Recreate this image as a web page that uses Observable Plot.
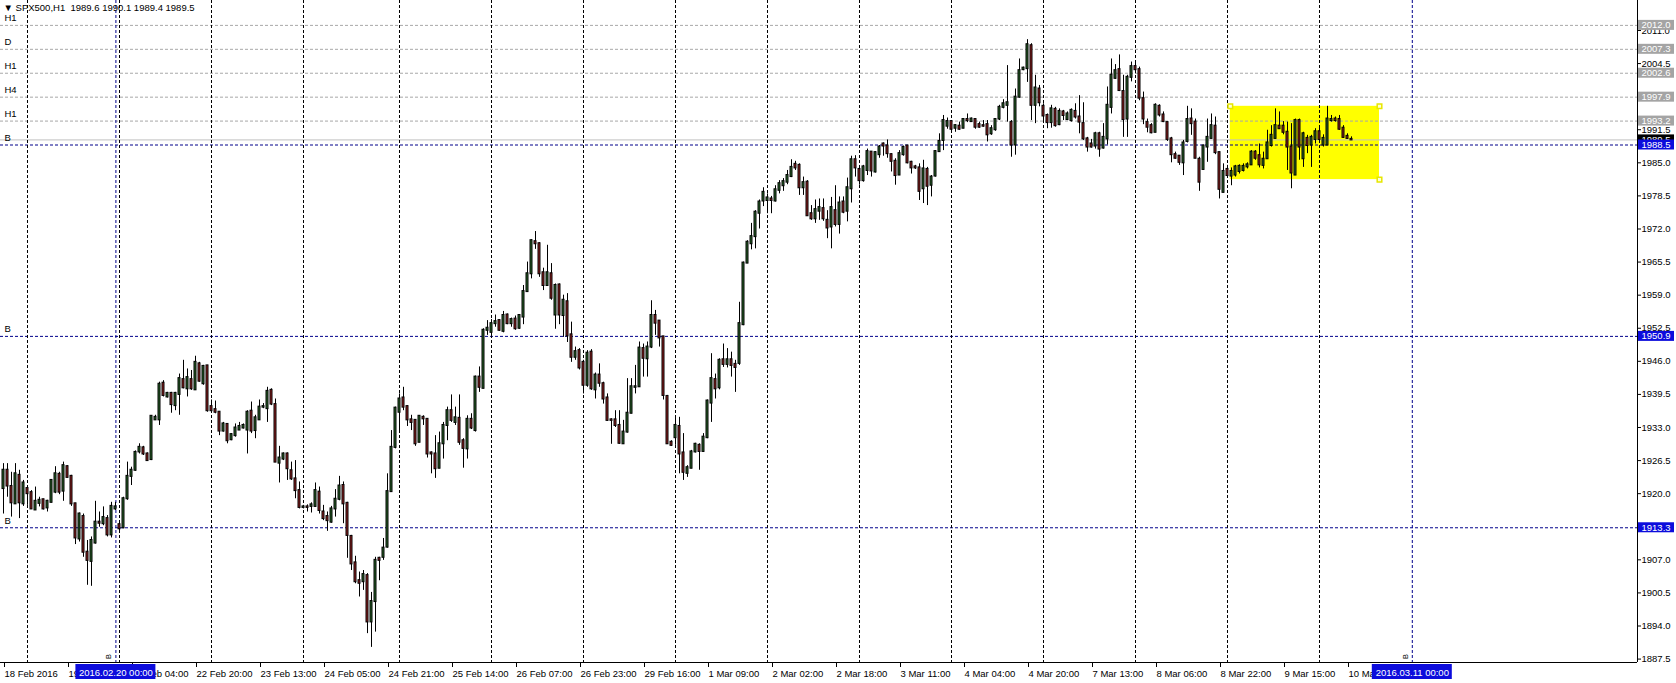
<!DOCTYPE html>
<html><head><meta charset="utf-8">
<script src="https://cdn.jsdelivr.net/npm/d3@7"></script>
<script src="https://cdn.jsdelivr.net/npm/@observablehq/plot@0.6"></script>
<style>
html,body{margin:0;padding:0;background:#fff;overflow:hidden}
svg text{white-space:pre}
</style></head><body><div id="chart"></div>
<script>
// ---- candle data (H1 bars, bar index 0..337) ----
const open = [
1921.0,1924.6,1921.4,1918.0,1923.6,1918.0,1921.0,1920.2,1916.8,1918.1,
1918.8,1917.2,1918.3,1920.3,1923.8,1920.5,1925.3,1923.4,1918.0,1911.1,
1915.5,1908.5,1906.7,1910.3,1914.4,1914.1,1915.1,1911.9,1917.0,1913.9,
1913.3,1919.0,1923.4,1924.6,1928.2,1929.0,1927.8,1926.7,1934.5,1934.5,
1941.7,1939.0,1939.7,1937.3,1939.5,1942.4,1940.6,1942.4,1940.4,1945.5,
1941.6,1945.1,1937.1,1936.5,1936.0,1932.3,1933.6,1930.6,1931.4,1932.5,
1932.9,1932.5,1936.2,1932.4,1934.5,1937.0,1936.7,1940.3,1937.5,1926.0,
1926.8,1927.8,1924.5,1922.9,1920.6,1917.3,1917.4,1917.5,1917.5,1920.3,
1916.4,1915.5,1914.4,1917.0,1918.9,1921.6,1918.1,1911.6,1906.4,1902.9,
1902.7,1903.9,1894.8,1898.8,1907.3,1907.5,1909.5,1920.4,1929.1,1936.0,
1938.8,1937.1,1934.5,1934.4,1930.1,1935.0,1934.6,1928.0,1927.8,1925.0,
1929.8,1933.4,1936.3,1934.0,1934.8,1930.4,1928.8,1934.6,1932.4,1942.9,
1940.7,1952.1,1951.7,1953.4,1954.0,1951.9,1955.1,1953.4,1954.3,1952.5,
1954.7,1959.7,1963.2,1969.5,1969.1,1963.4,1960.9,1963.2,1955.1,1961.0,
1955.0,1957.7,1951.2,1946.8,1948.1,1945.8,1941.3,1947.8,1940.4,1943.3,
1941.6,1938.8,1934.5,1934.5,1933.4,1929.8,1932.1,1935.8,1940.9,1941.0,
1948.5,1946.5,1948.8,1955.0,1953.9,1950.8,1939.1,1930.1,1931.0,1933.2,
1928.0,1924.0,1925.0,1928.2,1929.5,1928.3,1931.0,1937.8,1942.4,1940.8,
1946.3,1945.4,1946.3,1945.4,1945.6,1953.2,1965.3,1969.1,1970.5,1975.1,
1977.5,1977.6,1977.9,1977.5,1979.6,1980.5,1981.2,1982.3,1984.7,1984.5,
1980.1,1981.2,1975.0,1974.0,1975.5,1976.0,1973.7,1972.4,1975.6,1972.9,
1977.3,1975.5,1979.9,1985.6,1983.7,1981.5,1983.5,1987.1,1983.2,1986.6,
1988.7,1988.3,1986.6,1985.3,1982.6,1986.6,1988.3,1985.1,1984.2,1984.0,
1979.9,1983.7,1980.6,1982.4,1987.2,1989.4,1992.2,1993.1,1991.8,1992.2,
1991.8,1993.5,1993.1,1993.5,1992.5,1992.3,1992.5,1990.7,1991.5,1993.6,
1995.9,1996.3,1992.9,1988.5,1997.9,2003.3,2003.5,2008.0,1996.3,1999.5,
1996.1,1994.3,1992.9,1995.5,1992.5,1995.0,1993.5,1993.3,1995.1,1994.0,
1992.7,1989.7,1988.7,1988.3,1990.7,1987.9,1989.7,1995.9,2001.6,2003.3,
1999.0,1993.6,2001.8,2003.9,2003.3,1997.6,1992.9,1992.3,1991.0,1996.1,
1994.4,1992.9,1989.7,1986.6,1986.3,1985.0,1989.2,1993.6,1993.0,1985.7,
1983.7,1988.1,1989.8,1992.2,1987.0,1979.2,1983.7,1982.4,1982.6,1983.3,
1983.5,1984.2,1984.6,1987.1,1986.4,1984.5,1985.8,1988.4,1989.8,1992.2,
1992.2,1991.0,1988.1,1982.6,1993.3,1985.8,1989.8,1988.5,1989.6,1991.1,
1988.5,1988.5,1993.3,1993.6,1993.5,1991.8,1990.2,1989.6];
const high = [
1925.9,1925.9,1924.2,1925.9,1924.6,1922.6,1921.4,1920.6,1921.3,1919.3,
1918.9,1918.7,1922.7,1925.3,1924.2,1926.2,1925.5,1923.6,1918.1,1916.2,
1916.0,1910.8,1911.5,1918.5,1916.4,1917.4,1915.7,1918.3,1918.3,1914.2,
1919.3,1926.2,1925.2,1928.4,1929.8,1929.3,1928.0,1935.3,1935.4,1941.9,
1942.2,1939.9,1939.9,1939.9,1943.5,1946.2,1944.5,1944.2,1947.0,1945.8,
1945.2,1945.2,1938.4,1938.2,1936.1,1934.0,1933.7,1931.8,1933.7,1934.0,
1933.7,1936.3,1938.0,1935.4,1938.4,1937.7,1940.9,1940.6,1938.6,1929.3,
1928.0,1928.0,1926.2,1926.5,1922.3,1917.7,1917.8,1918.2,1922.1,1921.3,
1917.7,1916.4,1917.5,1920.8,1923.4,1922.3,1918.3,1911.8,1907.7,1904.6,
1904.9,1904.3,1900.6,1907.5,1907.5,1911.2,1923.9,1932.4,1937.0,1939.6,
1940.9,1937.3,1935.4,1934.5,1935.3,1935.3,1934.7,1928.2,1931.4,1932.1,
1934.0,1937.0,1939.4,1937.0,1939.4,1930.8,1935.3,1935.7,1943.1,1944.9,
1952.4,1954.0,1954.2,1955.1,1954.2,1955.8,1955.3,1954.5,1954.9,1955.1,
1960.9,1965.5,1969.9,1971.5,1969.3,1964.3,1968.8,1965.2,1961.2,1961.2,
1959.0,1959.3,1953.7,1948.8,1948.5,1946.2,1948.1,1948.3,1943.7,1945.5,
1941.9,1939.6,1934.7,1936.3,1936.3,1934.4,1942.6,1942.6,1945.2,1949.8,
1949.4,1949.8,1957.9,1956.0,1954.0,1950.9,1939.3,1930.4,1935.2,1935.0,
1931.8,1925.5,1928.5,1929.9,1929.8,1931.8,1938.4,1947.5,1943.5,1946.5,
1949.4,1948.5,1947.8,1946.2,1957.6,1965.5,1969.7,1973.1,1975.6,1977.7,
1980.1,1978.9,1978.4,1980.5,1981.5,1981.9,1983.5,1985.6,1985.3,1984.8,
1982.2,1981.5,1976.6,1977.7,1977.9,1977.9,1975.6,1978.2,1980.5,1978.3,
1978.3,1982.0,1986.3,1986.4,1984.0,1984.5,1987.7,1987.2,1987.2,1988.4,
1988.9,1989.5,1986.8,1985.8,1987.4,1988.3,1988.4,1985.3,1984.5,1984.8,
1985.5,1984.1,1982.5,1987.4,1990.7,1994.3,1993.8,1993.3,1992.5,1993.0,
1993.6,1994.6,1993.8,1993.6,1993.0,1993.3,1993.3,1992.3,1993.6,1996.3,
1997.4,2004.1,1993.3,1999.5,2005.4,2003.8,2009.2,2008.4,2002.2,2000.2,
1996.6,1994.6,1996.3,1995.9,1995.6,1995.3,1995.0,1995.6,1996.6,1998.2,
1996.8,1990.0,1989.6,1991.0,1991.0,1992.7,1999.9,2005.4,2004.3,2006.2,
2002.2,2002.2,2004.8,2005.0,2003.8,1998.9,1993.6,1992.7,1996.6,1996.4,
1995.0,1993.0,1990.0,1987.1,1986.4,1989.4,1996.1,1995.6,1993.6,1986.1,
1988.5,1993.6,1994.6,1994.0,1987.1,1984.8,1984.5,1984.0,1984.5,1984.6,
1984.8,1985.0,1987.4,1987.4,1988.7,1987.1,1991.4,1992.3,1995.6,1995.0,
1993.1,1993.0,1992.7,1993.6,1993.6,1991.0,1990.4,1990.4,1991.7,1992.0,
1990.5,1996.1,1994.3,1994.0,1994.3,1992.3,1990.7,1990.1];
const low = [
1916.0,1919.3,1915.4,1917.9,1915.1,1917.5,1917.7,1916.9,1916.7,1917.4,
1916.8,1916.4,1918.2,1920.0,1919.8,1918.5,1923.1,1917.5,1910.0,1910.5,
1907.5,1902.0,1901.8,1910.1,1913.4,1913.7,1911.5,1911.3,1916.7,1912.2,
1913.1,1918.7,1921.6,1924.4,1927.8,1927.5,1926.4,1926.5,1934.4,1933.4,
1939.0,1938.8,1935.8,1936.3,1935.4,1940.6,1939.0,1940.3,1940.3,1941.9,
1941.3,1936.0,1936.0,1935.7,1931.4,1932.1,1929.8,1930.4,1931.1,1932.4,
1932.7,1927.8,1931.8,1930.8,1934.4,1936.7,1934.0,1937.3,1926.2,1922.1,
1926.5,1922.6,1922.6,1919.0,1917.0,1917.0,1916.4,1916.2,1917.3,1916.0,
1914.7,1912.6,1914.2,1915.4,1918.6,1914.1,1907.3,1904.9,1902.3,1899.7,
1901.0,1892.5,1889.8,1892.8,1902.9,1906.9,1909.3,1920.3,1928.8,1932.4,
1936.3,1933.2,1932.4,1929.3,1930.0,1933.4,1927.0,1923.9,1923.0,1924.9,
1926.8,1930.4,1934.0,1933.4,1929.5,1925.0,1926.8,1932.6,1932.1,1939.9,
1940.6,1951.1,1950.7,1952.7,1951.9,1951.6,1953.2,1952.7,1952.1,1952.3,
1953.2,1959.6,1962.2,1968.0,1962.5,1959.9,1960.8,1958.0,1952.3,1953.2,
1950.7,1949.7,1945.8,1946.2,1944.3,1939.6,1940.9,1940.3,1938.6,1940.9,
1937.6,1934.2,1929.7,1933.0,1929.7,1929.7,1931.9,1935.7,1939.6,1940.9,
1942.9,1942.9,1948.5,1951.1,1948.8,1938.4,1929.7,1929.3,1929.5,1923.9,
1922.6,1923.2,1924.9,1928.0,1924.6,1928.1,1930.8,1934.0,1938.6,1940.4,
1944.8,1944.7,1942.9,1939.9,1945.2,1953.0,1965.2,1967.9,1968.1,1972.0,
1976.4,1975.0,1975.0,1977.3,1978.9,1979.4,1980.7,1982.1,1983.5,1978.6,
1978.6,1974.5,1973.7,1973.1,1973.7,1973.5,1970.1,1968.1,1972.4,1971.0,
1975.0,1973.4,1977.1,1982.2,1980.6,1981.2,1982.5,1982.2,1983.0,1985.9,
1986.3,1985.9,1983.2,1980.6,1982.5,1986.3,1984.8,1982.8,1983.7,1977.6,
1977.0,1976.6,1978.3,1982.2,1987.1,1987.4,1991.6,1991.0,1991.0,1991.4,
1991.7,1992.9,1993.0,1991.6,1991.8,1992.0,1989.1,1990.4,1991.2,1993.3,
1995.6,1993.0,1986.1,1986.5,1997.7,2003.1,2000.8,1993.3,1992.7,1996.0,
1992.9,1991.7,1991.8,1992.0,1992.3,1993.3,1993.3,1993.0,1993.6,1990.7,
1989.4,1987.1,1987.9,1987.7,1986.1,1987.7,1988.5,1994.6,2001.4,1999.0,
1990.0,1990.0,2000.9,2002.5,1997.2,1992.5,1990.9,1990.7,1990.9,1994.0,
1992.9,1989.2,1985.0,1985.7,1984.5,1982.5,1988.9,1990.4,1985.8,1979.4,
1983.5,1985.1,1989.7,1986.6,1977.9,1979.1,1982.0,1980.5,1982.2,1982.8,
1983.2,1983.8,1984.5,1985.5,1984.0,1983.8,1985.7,1988.1,1989.7,1991.6,
1990.5,1983.5,1979.9,1982.5,1985.5,1984.1,1986.8,1984.1,1988.7,1989.1,
1988.1,1988.4,1993.0,1993.0,1991.4,1989.8,1989.6,1989.4];
const close = [
1924.6,1921.5,1918.2,1923.9,1918.2,1922.1,1920.0,1917.0,1918.5,1918.7,
1917.0,1918.5,1922.6,1923.9,1920.3,1925.5,1923.2,1918.0,1911.3,1916.0,
1908.5,1906.9,1910.8,1914.4,1914.2,1915.3,1911.9,1917.5,1917.4,1913.1,
1919.0,1923.4,1924.6,1928.1,1929.1,1927.8,1926.5,1935.2,1935.0,1941.5,
1939.3,1939.7,1937.5,1939.7,1942.6,1940.8,1942.8,1940.6,1945.8,1942.1,
1945.0,1936.3,1936.3,1936.0,1932.3,1933.7,1930.4,1931.6,1932.9,1933.2,
1933.4,1936.0,1932.3,1934.9,1937.0,1937.1,1940.1,1937.6,1926.2,1927.0,
1927.8,1924.9,1922.9,1920.6,1917.3,1917.4,1917.3,1917.8,1920.6,1916.7,
1915.1,1914.7,1917.0,1918.9,1921.5,1918.0,1911.8,1906.2,1902.7,1902.4,
1904.1,1894.8,1898.8,1906.9,1906.9,1909.3,1920.4,1929.1,1936.8,1938.6,
1937.0,1934.5,1934.0,1929.8,1935.2,1934.7,1927.8,1927.8,1924.9,1929.8,
1933.4,1936.3,1934.4,1934.9,1930.1,1928.9,1934.6,1932.9,1942.9,1940.9,
1952.1,1952.5,1953.4,1953.8,1952.1,1955.0,1953.4,1954.2,1952.4,1955.0,
1959.7,1963.2,1969.7,1969.1,1963.2,1960.9,1963.4,1958.4,1960.9,1955.1,
1958.0,1951.0,1946.8,1947.9,1944.7,1941.3,1947.6,1940.6,1943.3,1941.7,
1938.6,1934.4,1934.4,1933.4,1929.9,1932.1,1935.8,1941.0,1941.0,1948.6,
1946.6,1948.8,1955.0,1953.5,1950.6,1939.3,1929.8,1929.5,1933.4,1927.8,
1924.2,1925.1,1928.2,1929.7,1928.3,1931.1,1938.2,1942.6,1940.6,1946.2,
1945.4,1946.3,1945.2,1944.8,1953.4,1965.3,1969.4,1970.5,1975.3,1977.3,
1979.2,1978.1,1977.6,1979.7,1980.9,1981.3,1982.5,1984.1,1984.0,1980.1,
1981.1,1974.6,1974.0,1975.8,1976.2,1974.0,1972.2,1976.2,1972.9,1977.1,
1975.3,1980.1,1985.6,1984.0,1981.5,1984.2,1987.2,1983.4,1987.0,1988.1,
1988.3,1986.8,1985.3,1982.5,1986.8,1988.0,1985.0,1984.0,1984.0,1979.4,
1983.8,1980.4,1982.2,1987.2,1989.2,1993.3,1993.1,1991.6,1992.3,1991.6,
1993.5,1993.3,1993.6,1992.0,1992.0,1992.2,1990.5,1991.7,1993.5,1995.9,
1996.6,1996.8,1988.5,1997.9,2003.1,2003.6,2008.2,1996.3,1999.7,1996.8,
1994.2,1992.9,1995.6,1992.3,1995.1,1994.3,1994.6,1995.3,1994.0,1993.0,
1989.7,1988.1,1988.1,1990.7,1987.7,1990.0,1996.3,2002.2,2003.1,1999.2,
1993.5,2001.8,2003.9,2003.3,1997.7,1993.6,1992.0,1990.9,1996.3,1994.4,
1993.1,1989.6,1986.6,1985.9,1985.1,1988.9,1993.5,1992.7,1985.9,1981.2,
1988.3,1990.0,1992.3,1987.0,1979.8,1983.3,1982.5,1983.3,1984.2,1984.3,
1984.3,1984.6,1987.1,1985.9,1984.6,1985.7,1988.9,1990.4,1992.3,1991.7,
1991.0,1988.1,1983.0,1993.3,1988.1,1990.7,1988.4,1990.0,1991.1,1989.6,
1989.8,1993.6,1993.5,1993.3,1991.6,1990.0,1989.8,1989.5];

// ---- time axis (bar index of each label) ----
const timeTicks = [0,16,32,48,64,80,96,112,128,144,160,176,192,208,224,240,256,272,288,304,320,336];
const timeLabels = ["18 Feb 2016","19 Feb 10:00","22 Feb 04:00","22 Feb 20:00","23 Feb 13:00","24 Feb 05:00",
  "24 Feb 21:00","25 Feb 14:00","26 Feb 07:00","26 Feb 23:00","29 Feb 16:00","1 Mar 09:00","2 Mar 02:00",
  "2 Mar 18:00","3 Mar 11:00","4 Mar 04:00","4 Mar 20:00","7 Mar 13:00","8 Mar 06:00","8 Mar 22:00",
  "9 Mar 15:00","10 Mar 08:00"];
// first bar of each day (period separators)
const daySeparators = [6,29,52,75,99,122,145,168,191,214,237,260,283,306,329];
// price axis
const priceTicks = [1887.5,1894.0,1900.5,1907.0,1913.5,1920.0,1926.5,1933.0,1939.5,1946.0,1952.5,1959.0,
  1965.5,1972.0,1978.5,1985.0,1991.5,1998.0,2004.5,2011.0];
// horizontal user lines
const levelPrices = [2012.0,2007.3,2002.6,1997.9,1993.2];
const levelTags = ["H1","D","H1","H4","H1"];
const buyPrices = [1988.5,1950.9,1913.3];
const buyTags = ["B","B","B"];
const bidPrice = [1989.5];
// vertical user lines (bar index) and their labels
const timeLines = [28.1,352.2];
const timeLineLabels = ["2016.02.20 00:00","2016.03.11 00:00"];
// rectangle (bar index / price)
const boxBars = [306.7,344.0];
const boxPrices = [1981.7,1996.1];
const header = "\u25BC SPX500,H1  1989.6 1990.1 1989.4 1989.5";

const xDomain = [-0.75, 408.5];
const yDomain = [1886.83, 2016.89];
const idx = d3.range(open.length);
const bull = "#2b6b2b", bear = "#9c2222";
const navy = "#00008b", boxBlue = "#0c0cdc";

const chart = Plot.plot({
  width: 1676, height: 683,
  marginLeft: 0, marginRight: 39, marginTop: 0, marginBottom: 21,
  x: {domain: xDomain, axis: null},
  y: {domain: yDomain, axis: null},
  style: {fontFamily: "'Liberation Sans', Arial, sans-serif", fontSize: "9.5px", background: "#fff", color: "#000", overflow: "visible"},
  marks: [
    // rectangle object (background)
    Plot.rect([0], {x1: () => boxBars[0], x2: () => boxBars[1], y1: () => boxPrices[0], y2: () => boxPrices[1], fill: "#ffff00"}),
    // user horizontal lines
    Plot.ruleY(levelPrices, {stroke: "#a8a8a8", strokeDasharray: "3,2"}),
    Plot.ruleY(bidPrice, {stroke: "#c0c0c0"}),
    Plot.ruleY(buyPrices, {stroke: navy, strokeDasharray: "3,2"}),
    // period separators
    Plot.ruleX(daySeparators, {stroke: "#000", strokeDasharray: "3,2"}),
    Plot.ruleX(timeLines, {stroke: navy, strokeDasharray: "3,2"}),
    // candles
    Plot.ruleX(idx, {x: i => i, y1: i => Math.min(low[i], open[i], close[i]), y2: i => Math.max(high[i], open[i], close[i]), stroke: "#000"}),
    Plot.rect(idx, {x1: i => i, x2: i => i, y1: i => open[i], y2: i => close[i],
      insetLeft: -1, insetRight: -1, insetTop: -0.5, insetBottom: -0.5,
      fill: i => close[i] >= open[i] ? bull : bear, stroke: "#000", strokeWidth: 1}),
    // rectangle handles
    Plot.dot([[boxBars[0], boxPrices[1]], [boxBars[1], boxPrices[1]], [boxBars[1], boxPrices[0]]],
      {x: d => d[0], y: d => d[1], symbol: "square", r: 2.6, fill: "#ffffd0", stroke: "#e6e600"}),
    // level tags on the left
    Plot.text(levelPrices, {x: () => xDomain[0], y: d => d, text: (d, i) => levelTags[i], dx: 4, dy: -7, textAnchor: "start", fontSize: 9.5}),
    Plot.text(buyPrices, {x: () => xDomain[0], y: d => d, text: (d, i) => buyTags[i], dx: 4, dy: -7, textAnchor: "start", fontSize: 9.5}),
    // header
    Plot.text([header], {frameAnchor: "top-left", dx: 3, dy: 4, textAnchor: "start", lineAnchor: "top", fontSize: 9.5}),
    // axes
    Plot.ruleY([yDomain[0]], {stroke: "#000"}),
    Plot.ruleX([xDomain[1]], {stroke: "#000"}),
    Plot.axisY(priceTicks, {anchor: "right", tickSize: 3, tickPadding: 1, tickFormat: d => d.toFixed(1), fontSize: 9.5}),
    Plot.axisX(timeTicks, {anchor: "bottom", tickSize: 5, tickPadding: 3, tickFormat: d => timeLabels[timeTicks.indexOf(d)], textAnchor: "start", dx: 1, fontSize: 9.5}),
    // price boxes on the right scale
    Plot.rect(levelPrices, {x1: () => xDomain[1], x2: () => xDomain[1], y1: d => d, y2: d => d, insetLeft: 1, insetRight: -37, insetTop: -5, insetBottom: -5, fill: "#a4a4a4"}),
    Plot.text(levelPrices, {x: () => xDomain[1], y: d => d, text: d => d.toFixed(1), dx: 4, textAnchor: "start", fill: "#fff", fontSize: 9.5}),
    Plot.rect(bidPrice, {x1: () => xDomain[1], x2: () => xDomain[1], y1: d => d, y2: d => d, insetLeft: 1, insetRight: -37, insetTop: -5, insetBottom: -5, fill: "#000"}),
    Plot.text(bidPrice, {x: () => xDomain[1], y: d => d, text: d => d.toFixed(1), dx: 4, textAnchor: "start", fill: "#fff", fontSize: 9.5}),
    Plot.rect(buyPrices, {x1: () => xDomain[1], x2: () => xDomain[1], y1: d => d, y2: d => d, insetLeft: 1, insetRight: -37, insetTop: -5, insetBottom: -5, fill: boxBlue}),
    Plot.text(buyPrices, {x: () => xDomain[1], y: d => d, text: d => d.toFixed(1), dx: 4, textAnchor: "start", fill: "#fff", fontSize: 9.5}),
    // time boxes on the bottom scale
    Plot.rect(timeLines, {x1: d => d, x2: d => d, y1: () => yDomain[0], y2: () => yDomain[0], insetLeft: -40, insetRight: -40, insetTop: 2, insetBottom: -17, fill: boxBlue}),
    Plot.text(timeLines, {x: d => d, y: () => yDomain[0], text: (d, i) => timeLineLabels[i], dy: 10, fill: "#fff", fontSize: 9.5}),
    Plot.text(timeLines, {x: d => d, y: () => yDomain[0], text: () => "B", rotate: -90, dx: -7, dy: -6, fontSize: 7.5})
  ]
});
document.getElementById("chart").appendChild(chart);
</script>
</body></html>
